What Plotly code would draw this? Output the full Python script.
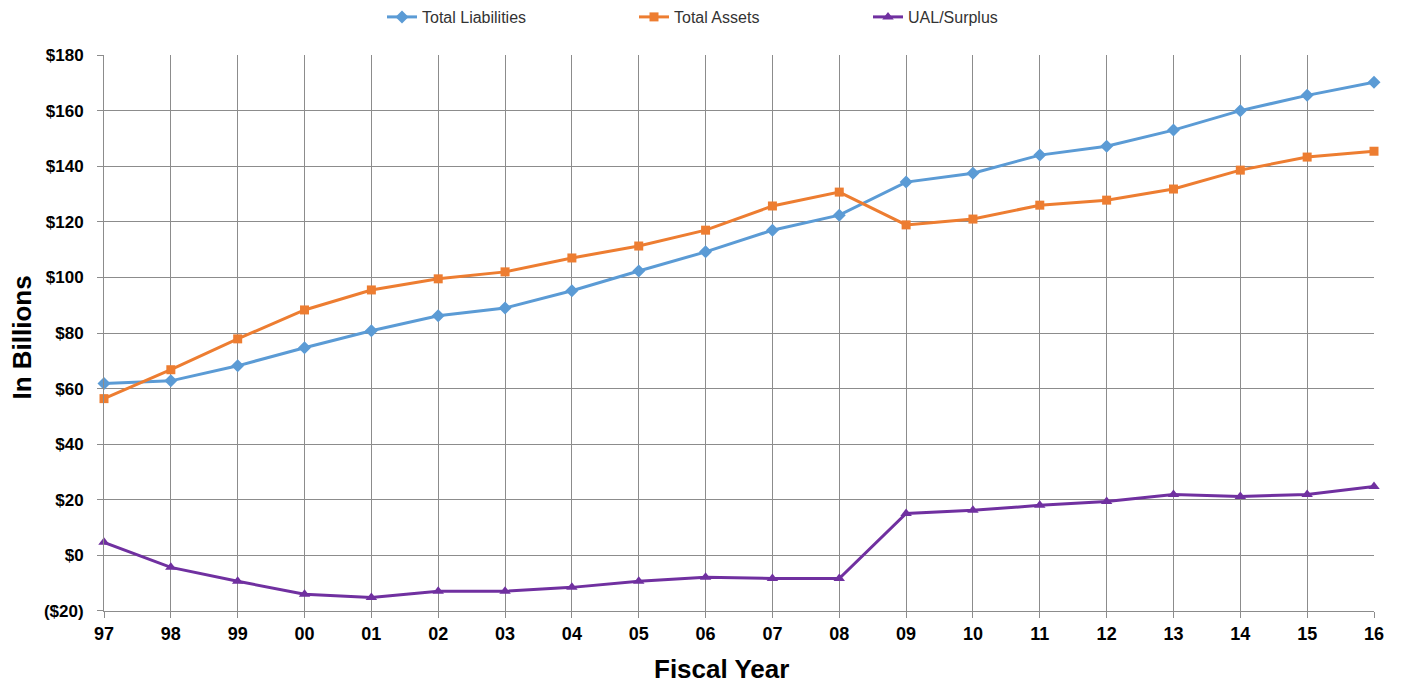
import plotly.graph_objects as go

years = ["97", "98", "99", "00", "01", "02", "03", "04", "05", "06",
         "07", "08", "09", "10", "11", "12", "13", "14", "15", "16"]
total_liabilities = [61.8, 62.8, 68.2, 74.7, 80.8, 86.2, 89.0, 95.2, 102.3, 109.2,
                     117.0, 122.4, 134.3, 137.5, 144.0, 147.2, 153.0, 160.0, 165.5, 170.2]
total_assets = [56.4, 66.8, 77.9, 88.3, 95.5, 99.5, 102.0, 107.0, 111.3, 117.0,
                125.7, 130.7, 118.9, 121.0, 126.0, 127.8, 131.8, 138.6, 143.3, 145.4]
ual_surplus = [4.7, -4.3, -9.3, -14.0, -15.1, -12.9, -12.9, -11.5, -9.3, -7.9,
               -8.3, -8.3, 15.1, 16.2, 18.0, 19.4, 21.9, 21.2, 21.9, 24.8]
y_ticks = [-20, 0, 20, 40, 60, 80, 100, 120, 140, 160, 180]
y_tick_labels = ["($20)", "$0", "$20", "$40", "$60", "$80", "$100", "$120", "$140", "$160", "$180"]

xpos = list(range(len(years)))
FONT = "Arial, Liberation Sans, sans-serif"
W, H = 1403, 685
ML, MR, MT, MB = 104, 29, 54, 74
PW = W - ML - MR
PH = H - MT - MB

def px_to_paper_x(px):
    return (px - ML) / PW

def px_to_paper_y(py):
    return 1 - (py - MT) / PH

fig = go.Figure()
series = [
    ("Total Liabilities", total_liabilities, "#5B9BD5", "diamond", 10, "legend", 382),
    ("Total Assets", total_assets, "#ED7D31", "square", 9, "legend2", 634),
    ("UAL/Surplus", ual_surplus, "#7030A0", "triangle-up", 10, "legend3", 868),
]
legend_layouts = {}
for name, vals, color, sym, size, leg, lx in series:
    fig.add_trace(go.Scatter(
        x=xpos, y=vals, name=name, mode="lines+markers",
        line=dict(color=color, width=3),
        marker=dict(symbol=sym, size=size, color=color),
        cliponaxis=False, legend=leg,
    ))
    legend_layouts[leg] = dict(
        orientation="h", x=px_to_paper_x(lx), xanchor="left",
        yref="container", y=1 - 17 / H, yanchor="middle",
        font=dict(size=16, color="#333333", family=FONT),
        bgcolor="rgba(0,0,0,0)",
    )

fig.update_layout(
    width=W, height=H,
    margin=dict(l=ML, r=MR, t=MT, b=MB),
    paper_bgcolor="white", plot_bgcolor="white",
    font=dict(family=FONT, color="#000000"),
    showlegend=True,
    **legend_layouts,
    xaxis=dict(
        range=[0, len(years) - 1], tickmode="array", tickvals=xpos, ticktext=years,
        showgrid=True, gridcolor="#8c8c8c", gridwidth=1,
        showline=True, linecolor="#8c8c8c", linewidth=1,
        ticks="outside", ticklen=6, tickcolor="#8c8c8c",
        ticklabelstandoff=0,
        tickfont=dict(size=18, family=FONT, color="#000000", weight="bold"),
        zeroline=False,
    ),
    yaxis=dict(
        range=[-20, 180], tickmode="array", tickvals=y_ticks, ticktext=y_tick_labels,
        showgrid=True, gridcolor="#8c8c8c", gridwidth=1,
        showline=True, linecolor="#8c8c8c", linewidth=1,
        ticks="outside", ticklen=6, tickcolor="#8c8c8c",
        ticklabelstandoff=10,
        tickfont=dict(size=17, family=FONT, color="#000000", weight="bold"),
        zeroline=False,
    ),
    annotations=[
        dict(text="<b>Fiscal Year</b>", xref="paper", yref="paper",
             x=px_to_paper_x(721), y=px_to_paper_y(669),
             xanchor="center", yanchor="middle", showarrow=False,
             font=dict(size=26, family=FONT, color="#000000")),
        dict(text="<b>In Billions</b>", xref="paper", yref="paper",
             x=px_to_paper_x(22), y=px_to_paper_y(337),
             xanchor="center", yanchor="middle", showarrow=False, textangle=-90,
             font=dict(size=26, family=FONT, color="#000000")),
    ],
)

fig.write_html("out.html")
